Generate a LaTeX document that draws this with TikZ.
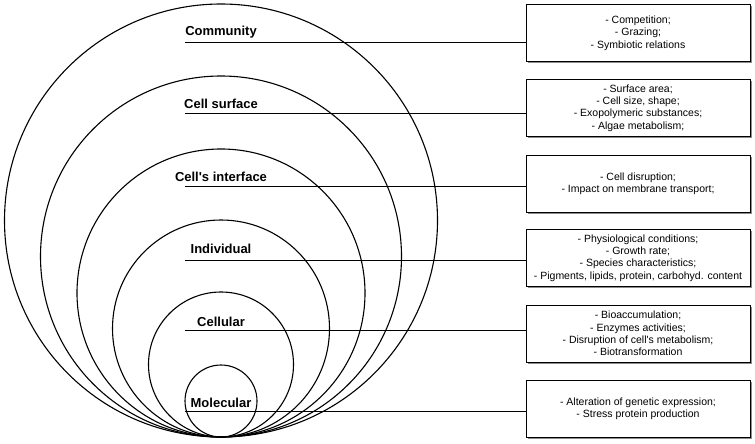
\documentclass[tikz,border=0pt]{standalone}
\usepackage{fontspec}
\setmainfont{Liberation Sans}[Ligatures=TeXOff]
\begin{document}
\begin{tikzpicture}[x=1pt,y=-1pt,
  ring/.style={draw=black,line width=1.1pt},
  lvl/.style={font=\fontsize{13}{15}\selectfont\bfseries,anchor=base,inner sep=0pt},
  info/.style={draw=black,line width=0.8pt,fill=white,minimum width=224pt,minimum height=57pt,
    align=center,font=\fontsize{10.5}{12.3}\selectfont,inner sep=2pt},
  lead/.style={draw=black,line width=0.7pt},
  shadowbox/.style={fill=black!45,draw=none}
]
\useasboundingbox (0,0) rectangle (755,444);
% circles, all tangent at the bottom point
\foreach \r in {216.5,180.5,144,108.5,72.5,36}{
  \draw[ring] (221,437-\r) circle[radius=\r];
}
% level labels
\node[lvl] (lcom) at (221,35.5) {Community};
\node[lvl] (lsur) at (221,108) {Cell surface};
\node[lvl] (lint) at (221,181) {Cell's interface};
\node[lvl] (lind) at (221,253.5) {Individual};
\node[lvl] (lcel) at (221,326) {Cellular};
\node[lvl] (lmol) at (221,407) {Molecular};
% shadows of the boxes
\foreach \y in {33,108,183.5,258,333.5,408.5}{
  \fill[shadowbox] (527.5,\y-27) rectangle (751.5,\y+30);
}
% boxes
\node[info] (bcom) at (638,33) {- Competition;\\- Grazing;\\- Symbiotic relations};
\node[info] (bsur) at (638,108) {- Surface area;\\- Cell size, shape;\\- Exopolymeric substances;\\- Algae metabolism;};
\node[info] (bint) at (638,183.5) {- Cell disruption;\\- Impact on membrane transport;};
\node[info] (bind) at (638,258) {- Physiological conditions;\\- Growth rate;\\- Species characteristics;\\- Pigments, lipids, protein, carbohyd. content};
\node[info] (bcel) at (638,333.5) {- Bioaccumulation;\\- Enzymes activities;\\- Disruption of cell's metabolism;\\- Biotransformation};
\node[info] (bmol) at (638,408.5) {- Alteration of genetic expression;\\- Stress protein production};
% leader lines
\coordinate (scom) at (185,42);
\coordinate (ssur) at (185,113);
\coordinate (sint) at (185,186);
\coordinate (sind) at (185,260);
\coordinate (scel) at (185,330);
\coordinate (smol) at (185,411);
\draw[lead] (scom) -- (scom -| bcom.west);
\draw[lead] (ssur) -- (ssur -| bsur.west);
\draw[lead] (sint) -- (sint -| bint.west);
\draw[lead] (sind) -- (sind -| bind.west);
\draw[lead] (scel) -- (scel -| bcel.west);
\draw[lead] (smol) -- (smol -| bmol.west);
\end{tikzpicture}
\end{document}
